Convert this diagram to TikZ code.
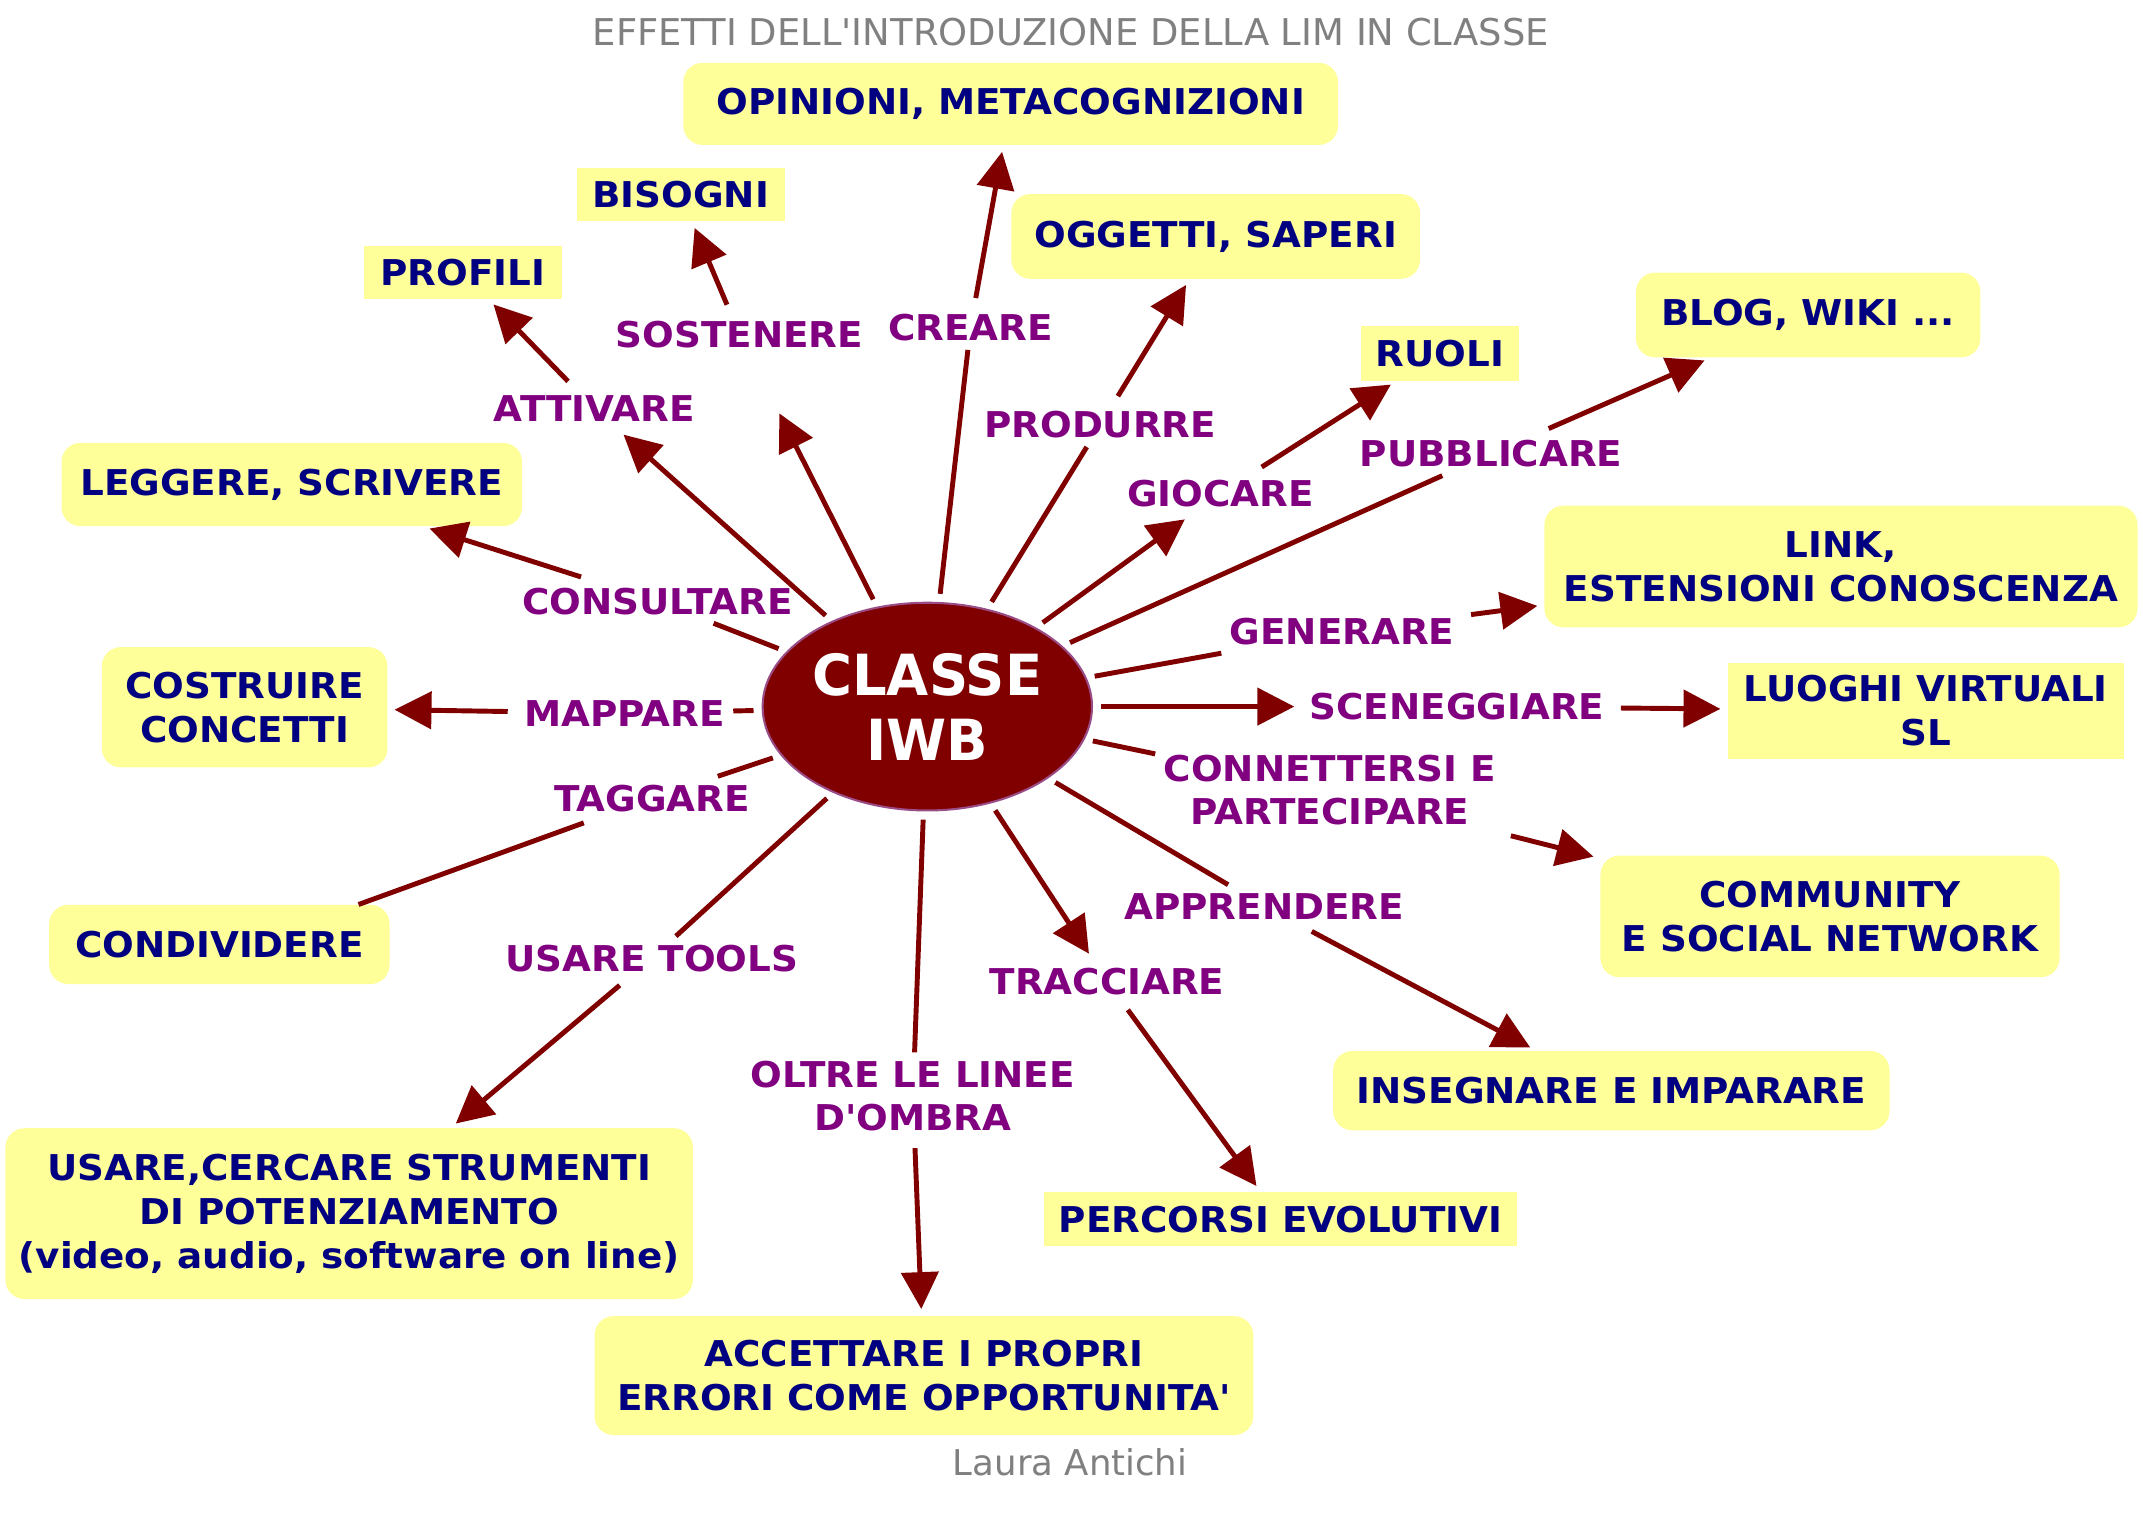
\documentclass[tikz,border=0pt]{standalone}
\usepackage{fontspec}
\setmainfont{DejaVu Sans}
\newfontfamily\mapfont[FakeStretch=1.05]{DejaVu Sans}
\newfontfamily\hubfont[FakeStretch=0.96]{DejaVu Sans}
\usetikzlibrary{shapes.geometric,arrows.meta}
\definecolor{boxfill}{HTML}{FFFF99}
\definecolor{boxtext}{HTML}{000080}
\definecolor{verbtext}{HTML}{800080}
\definecolor{linkred}{HTML}{800000}
\definecolor{hubrim}{HTML}{9A4C86}
\definecolor{notegray}{HTML}{808080}
\begin{document}
\begin{tikzpicture}[x=1pt, y=-1pt,
    box/.style={fill=boxfill, text=boxtext, align=center, inner sep=0pt,
      font=\mapfont\bfseries\fontsize{26}{32}\selectfont},
    rbox/.style={box, rounded corners=14pt},
    verb/.style={text=verbtext, align=center, inner sep=6pt,
      font=\mapfont\bfseries\fontsize{26}{32}\selectfont},
    spoke/.style={draw=linkred, line width=3.6pt, shorten <=6pt},
    arrow/.style={spoke, -{Triangle[length=27pt, width=27pt]}, shorten >=5pt}]
  \fill[white] (0,0) rectangle (1568,1119);
  \useasboundingbox (0,0) rectangle (1568,1119);

  \node[text=notegray, font=\fontsize{27}{32}\selectfont] (title) at (783.5,23.5)
    {EFFETTI DELL\textquotesingle INTRODUZIONE DELLA LIM IN CLASSE};
  \node[text=notegray, font=\fontsize{26}{32}\selectfont] (author) at (783,1070) {Laura Antichi};

  \node[ellipse, fill=linkred, draw=hubrim, line width=1.5pt, minimum width=241pt,
    minimum height=152pt, inner sep=0pt, text=white, align=center,
    font=\hubfont\bfseries\fontsize{41.5}{47.5}\selectfont] (hub) at (678.5,517) {CLASSE\\IWB};

  \node[rbox, minimum width=479pt, minimum height=60pt] (opin) at (739.5,76) {OPINIONI, METACOGNIZIONI};
  \node[box, minimum width=152pt, minimum height=39pt] (bis) at (498,142.5) {BISOGNI};
  \node[box, minimum width=145pt, minimum height=39pt] (prof) at (338.5,199.5) {PROFILI};
  \node[rbox, minimum width=299pt, minimum height=62pt] (ogg) at (889.5,173) {OGGETTI, SAPERI};
  \node[box, minimum width=116pt, minimum height=40pt] (ruoli) at (1053.5,258.5) {RUOLI};
  \node[rbox, minimum width=252pt, minimum height=62pt] (blog) at (1323,230.5) {BLOG, WIKI ...};
  \node[rbox, minimum width=337pt, minimum height=61pt] (legg) at (213.5,354.5) {LEGGERE, SCRIVERE};
  \node[rbox, minimum width=434pt, minimum height=89pt] (link) at (1347,414.5) {LINK,\\ESTENSIONI CONOSCENZA};
  \node[rbox, minimum width=209pt, minimum height=88pt] (costr) at (179,517.5) {COSTRUIRE\\CONCETTI};
  \node[box, minimum width=290pt, minimum height=70pt] (luoghi) at (1409,520) {LUOGHI VIRTUALI\\SL};
  \node[rbox, minimum width=249pt, minimum height=58pt] (cond) at (160.5,691) {CONDIVIDERE};
  \node[rbox, minimum width=336pt, minimum height=89pt] (comm) at (1339,670.5) {COMMUNITY\\E SOCIAL NETWORK};
  \node[rbox, minimum width=407pt, minimum height=58pt] (insegn) at (1179,798) {INSEGNARE E IMPARARE};
  \node[rbox, minimum width=503pt, minimum height=125pt] (usare) at (255.5,888)
    {USARE,CERCARE STRUMENTI\\DI POTENZIAMENTO\\(video, audio, software on line)};
  \node[box, minimum width=346pt, minimum height=40pt] (perc) at (937,892) {PERCORSI EVOLUTIVI};
  \node[rbox, minimum width=482pt, minimum height=87pt] (acc) at (676,1006.5)
    {ACCETTARE I PROPRI\\ERRORI COME OPPORTUNITA\textquotesingle};

  \node[verb] (sost) at (541,244.5) {SOSTENERE};
  \node[verb] (creare) at (710,240) {CREARE};
  \node[verb] (attiv) at (435,299) {ATTIVARE};
  \node[verb] (prod) at (805,311) {PRODURRE};
  \node[verb] (gioc) at (893,361) {GIOCARE};
  \node[verb] (pubbl) at (1091,332) {PUBBLICARE};
  \node[verb] (cons) at (481,440) {CONSULTARE};
  \node[verb] (gener) at (982,462) {GENERARE};
  \node[verb] (mapp) at (457,522) {MAPPARE};
  \node[verb] (scen) at (1066,517) {SCENEGGIARE};
  \node[verb] (tagg) at (477,584) {TAGGARE};
  \node[verb] (conn) at (973,578) {CONNETTERSI E\\PARTECIPARE};
  \node[verb] (appr) at (925,663) {APPRENDERE};
  \node[verb] (tools) at (477,701) {USARE TOOLS};
  \node[verb] (tracc) at (810,718) {TRACCIARE};
  \node[verb] (oltre) at (668,802) {OLTRE LE LINEE\\D\textquotesingle OMBRA};

  \draw[spoke] (hub) -- (creare);
  \draw[arrow] (creare) -- (opin);
  \draw[arrow, shorten >=47pt] (hub) -- (sost);
  \draw[arrow] (sost) -- (bis);
  \draw[arrow] (hub) -- (attiv);
  \draw[arrow] (attiv) -- (prof);
  \draw[spoke] (hub) -- (cons);
  \draw[arrow] (cons) -- (legg);
  \draw[spoke] (hub) -- (mapp);
  \draw[arrow] (mapp) -- (costr);
  \draw[spoke] (hub) -- (tagg);
  \draw[spoke] (tagg) -- (cond.16);
  \draw[spoke] (hub) -- (tools);
  \draw[arrow] (tools) -- (usare);
  \draw[spoke] (hub) -- (oltre);
  \draw[arrow] (oltre) -- (acc);
  \draw[arrow] (hub) -- (tracc);
  \draw[arrow] (tracc) -- (perc);
  \draw[spoke] (hub) -- (appr);
  \draw[arrow] (appr) -- (insegn);
  \draw[spoke] (hub) -- (conn);
  \draw[arrow] (conn) -- (comm);
  \draw[arrow] (hub) -- (scen);
  \draw[arrow] (scen) -- (luoghi);
  \draw[spoke] (hub) -- (gener);
  \draw[arrow] (gener) -- (link);
  \draw[spoke] (hub) -- (pubbl);
  \draw[arrow] (pubbl) -- (blog);
  \draw[arrow] (hub) -- (gioc);
  \draw[arrow] (gioc) -- (ruoli);
  \draw[spoke] (hub) -- (prod);
  \draw[arrow] (prod) -- (ogg);
\end{tikzpicture}
\end{document}
